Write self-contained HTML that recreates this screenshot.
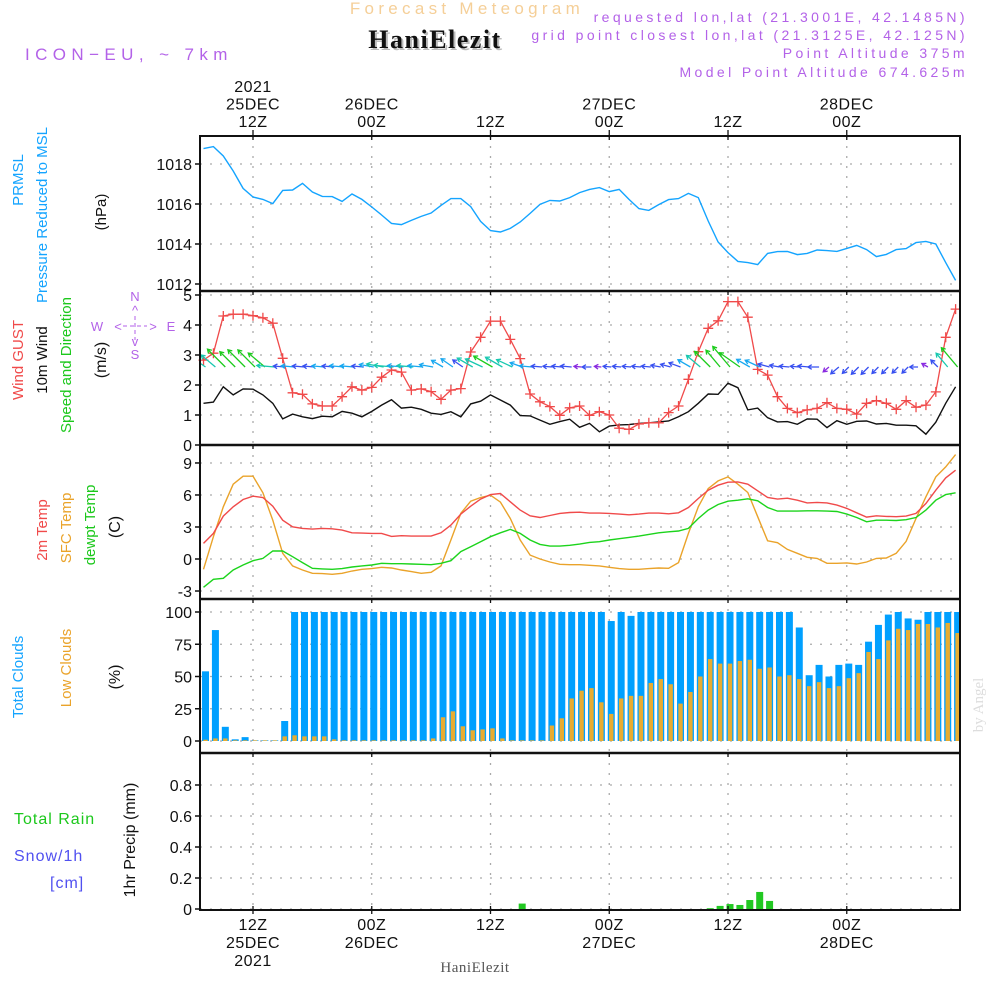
<!DOCTYPE html>
<html><head><meta charset="utf-8"><title>Meteogram</title>
<style>
html,body{margin:0;padding:0;background:#fff;}
svg{display:block;font-family:"Liberation Sans",sans-serif;}
</style></head>
<body>
<svg id="chart" width="1000" height="1000" viewBox="0 0 1000 1000" xmlns="http://www.w3.org/2000/svg">
<rect x="0" y="0" width="1000" height="1000" fill="#fff"/>
<text x="467" y="14" text-anchor="middle" font-size="17" fill="#f5cf98" letter-spacing="4.3">Forecast Meteogram</text>
<text x="437" y="50" text-anchor="middle" font-size="26" font-weight="bold" font-family="Liberation Serif, serif" fill="#bbb" letter-spacing="1.5">HaniElezit</text>
<text x="435" y="48" text-anchor="middle" font-size="26" font-weight="bold" font-family="Liberation Serif, serif" fill="#111" letter-spacing="1.5">HaniElezit</text>
<g font-size="14" fill="#b362e8" text-anchor="end" letter-spacing="3.4">
<text x="968" y="22">requested lon,lat (21.3001E, 42.1485N)</text>
<text x="968" y="40">grid point closest lon,lat (21.3125E, 42.125N)</text>
<text x="968" y="58">Point Altitude 375m</text>
<text x="968" y="77">Model Point Altitude 674.625m</text>
</g>
<text x="25" y="60" font-size="17" fill="#b362e8" letter-spacing="5.4">ICON−EU, ~ 7km</text>
<g id="plot"></g>
<text x="475" y="972" text-anchor="middle" font-size="15" font-family="Liberation Serif, serif" fill="#555" letter-spacing="0.5">HaniElezit</text>
<text transform="translate(983,705) rotate(-90)" text-anchor="middle" font-size="15" font-family="Liberation Serif, serif" fill="#ddd">by Angel</text>
</svg>
<script>
// ---- data (hourly, t = hours from 12Z 25DEC) ----
const tStart = -5;
const pressure = [1018.77,1018.87,1018.4,1017.65,1016.78,1016.35,1016.23,1016.02,1016.68,1016.7,1017.03,1016.6,1016.38,1016.37,1016.13,1016.5,1016.23,1015.85,1015.45,1015.03,1014.97,1015.18,1015.38,1015.55,1015.93,1016.27,1016.27,1015.87,1015.13,1014.67,1014.6,1014.78,1015.1,1015.53,1015.98,1016.18,1016.15,1016.32,1016.57,1016.73,
1016.82,1016.62,1016.73,1016.23,1015.77,1015.68,1015.97,1016.22,1016.27,1016.53,1016.32,1015.15,1014.1,1013.57,1013.13,1013.07,1012.97,1013.53,1013.62,1013.63,1013.47,1013.53,1013.7,1013.67,1013.63,1013.78,1013.93,1013.72,1013.37,1013.48,1013.72,1013.77,1014.07,1014.13,1014.0,1013.07,1012.18];
const gust = [2.83,3.06,4.3,4.36,4.36,4.31,4.24,4.06,2.89,1.74,1.69,1.37,1.3,1.3,1.61,1.94,1.83,1.92,2.26,2.5,2.43,1.83,1.87,1.78,1.52,1.83,1.88,3.1,3.59,4.13,4.13,3.52,2.88,1.7,1.44,1.28,0.99,1.24,1.3,0.99,
1.11,1.0,0.56,0.52,0.7,0.74,0.74,1.08,1.3,2.19,3.11,3.89,4.14,4.78,4.78,4.26,2.52,2.33,1.61,1.22,1.08,1.17,1.22,1.41,1.22,1.19,1.03,1.39,1.48,1.39,1.19,1.48,1.26,1.33,1.77,3.59,4.53];
const wind = [1.39,1.43,1.94,1.67,1.87,1.86,1.67,1.39,0.87,1.03,0.94,0.88,0.96,0.94,1.12,1.06,0.94,1.12,1.33,1.51,1.23,1.26,1.19,1.06,1.02,1.11,0.94,1.37,1.46,1.67,1.5,1.33,0.98,0.97,0.83,0.69,0.78,0.86,0.59,0.72,
0.44,0.63,0.67,0.68,0.72,0.74,0.77,0.8,0.94,1.11,1.39,1.7,1.69,2.06,1.91,1.17,1.23,0.91,0.77,0.78,0.69,0.87,0.86,0.58,0.81,0.69,0.79,0.8,0.7,0.72,0.66,0.66,0.64,0.36,0.76,1.39,1.94];
const windDir = [125,130,135,135,135,135,130,
95,95,95,95,95,95,95,95,95,95,
100,100,
95,95,95,95,100,
120,125,125,120,115,120,120,115,110,
95,95,95,95,95,95,90,95,95,95,95,95,95,
100,105,110,120,
130,135,140,140,125,
120,115,105,100,
95,95,95,90,
50,50,45,45,45,45,45,45,45,90,
120,135,140,140];
const temp2m = [1.46,2.4,4.02,4.89,5.58,5.89,5.76,4.95,3.64,3.02,2.87,2.8,2.87,2.83,2.71,2.46,2.43,2.4,2.4,2.12,2.18,2.15,2.15,2.15,2.46,3.18,4.21,4.95,5.61,6.04,6.14,5.36,4.58,4.05,3.89,4.08,4.27,4.36,4.39,4.3,
4.3,4.27,4.21,4.14,4.21,4.3,4.3,4.24,4.33,4.83,5.67,6.45,6.92,7.2,7.23,7.01,6.39,5.76,5.61,5.7,5.51,5.26,5.3,5.26,5.05,4.74,4.33,3.93,4.05,3.99,3.96,4.02,4.27,5.2,6.45,7.6,8.32];
const tempSfc = [-0.97,2.09,4.89,7.01,7.76,7.76,6.2,3.64,0.53,-0.65,-1.03,-1.34,-1.37,-1.43,-1.34,-1.12,-0.97,-0.9,-0.78,-0.84,-1.03,-1.18,-1.34,-1.25,-0.65,1.78,4.27,5.42,5.76,5.98,5.33,3.8,1.78,0.37,0,-0.28,-0.5,-0.53,-0.53,-0.59,
-0.65,-0.78,-0.9,-0.97,-0.97,-0.9,-0.84,-0.87,-0.34,2.4,4.89,6.6,7.32,7.69,7.01,6.23,3.96,1.71,1.53,0.9,0.53,0.16,0.06,-0.4,-0.4,-0.37,-0.47,-0.28,0.06,0.09,0.53,1.65,3.8,5.83,7.69,8.63,9.78];
const dewpt = [-2.65,-1.9,-1.81,-1.03,-0.56,-0.16,0.06,0.75,0.75,0.22,-0.34,-0.87,-0.93,-0.97,-0.9,-0.75,-0.65,-0.56,-0.4,-0.44,-0.44,-0.47,-0.5,-0.53,-0.4,-0.16,0.69,1.15,1.62,2.09,2.46,2.77,2.4,1.78,1.37,1.21,1.21,1.28,1.4,1.56,
1.62,1.78,1.9,2.02,2.15,2.31,2.46,2.55,2.62,2.87,3.8,4.58,5.11,5.42,5.51,5.64,5.45,4.83,4.49,4.49,4.49,4.52,4.52,4.49,4.45,4.21,3.89,3.49,3.64,3.64,3.61,3.68,3.89,4.58,5.51,6.04,6.2];
const totalClouds = [54,86,11,1.3,3,0.5,0.5,0.5,15.5,
100,100,100,100,100,100,100,100,100,100,100,100,100,100,100,100,100,100,100,100,100,100,100,100,100,100,100,100,100,100,100,
100,93,100,97,100,100,100,100,100,100,100,100,100,100,100,100,100,100,100,100,88,51,59,50,59,60,59,77,90,98,100,95,94,100,100,100,100];
const lowClouds = [1,2,2,0.5,0.5,0.5,0.5,0.5,3.6,4.4,3.6,3.6,3.6,1.3,
0.5,0.5,0.5,0.5,0.5,0.5,0.5,0.5,0.5,
2,18.4,23,11.4,8.3,9,9.8,2,
0.5,0.5,0.5,0.5,
12,17.6,33,39,41,
30,21,33,35,35,45,48,44,29,38,50,63.5,60,60,62,63,56,57,50,51,48,42.5,45.6,41,42.5,48.7,52.6,69,63.5,78,87,86,90.7,90.7,88,91.5,83.7];
const precip = [0,0,0,0,0,0,0,0,0,0,0,0,0,0,0,0,0,0,0,0,0,0,0,0,0,0,0,0,0,0,0,0,
0.035,
0,0,0,0,0,0,0,0,0,0,0,0,0,0,0,0,0,0,
0.005,0.02,0.032,0.026,0.058,0.11,0.052,
0,0,0,0,0,0,0,0,0,0,0,0,0,0,0,0,0,0,0];
const pressureTicks = [1012,1014,1016,1018];
const windTicks = [0,1,2,3,4,5];
const tempTicks = [-3,0,3,6,9];
const cloudTicks = [0,25,50,75,100];
const precipTicks = ["0","0.2","0.4","0.6","0.8"];
const timeTicksHours = [0,12,24,36,48,60];
const topLabels = [["2021","25DEC","12Z"],["26DEC","00Z"],["12Z"],["27DEC","00Z"],["12Z"],["28DEC","00Z"]];
const bottomLabels = [["12Z","25DEC","2021"],["00Z","26DEC"],["12Z"],["00Z","27DEC"],["12Z"],["00Z","28DEC"]];

// ---- scales ----
const X0 = 200, X1 = 960;
function xS(t){ return 253 + 9.896 * t; }
const panels = {p:[136,291], w:[291,445], t:[445,599], c:[599,753], r:[753,910]};
function yP(v){ return 284 - (v - 1012) * 20; }
function yW(v){ return 445 - v * 30; }
function yT(v){ return 559 - v * 10.67; }
function yC(v){ return 741 - v * 1.29; }
function yR(v){ return 909 - v * 155; }

const NS = "http://www.w3.org/2000/svg";
const plot = document.getElementById('plot');
function mk(tag, attrs, parent){
  const e = document.createElementNS(NS, tag);
  for (const k in attrs) e.setAttribute(k, attrs[k]);
  (parent || plot).appendChild(e);
  return e;
}
const clip = mk('clipPath', {id:'clipPlot'});
mk('rect', {x:X0, y:136, width:X1-X0, height:774}, clip);

// grid
const grid = mk('g', {stroke:'#aaa', 'stroke-width':'1.3', 'stroke-dasharray':'2,8', fill:'none'});


for (const key in panels){
  const [a,b] = panels[key];
  timeTicksHours.forEach(h=>{
    const l = mk('line', {x1:xS(h), x2:xS(h), y1:a, y2:b}, grid);
    
    
  });
}
function hGrid(vals, fy){
  vals.forEach(v=>{
    const l = mk('line', {x1:X0, x2:X1, y1:fy(v), y2:fy(v)}, grid);
    
    
  });
}
hGrid(pressureTicks, yP); hGrid(windTicks.slice(1), yW); hGrid(tempTicks, yT); hGrid(cloudTicks, yC); hGrid(precipTicks.map(Number), yR);

// tick labels
const tl = mk('g', {'font-size':'16', fill:'#111', 'text-anchor':'end'});


function yLabels(vals, fy, texts){
  vals.forEach((v,i)=>{
    const y = fy(Number(v));
    const t = mk('text', {x:192, y:y+6}, tl);
    t.textContent = texts ? texts[i] : String(v);
    
    
    const tk = mk('line', {x1:195, x2:200, y1:y, y2:y, stroke:'#111', 'stroke-width':'1.5'});
    
    
  });
}
yLabels(pressureTicks, yP); yLabels(windTicks, yW); yLabels(tempTicks, yT); yLabels(cloudTicks, yC); yLabels(precipTicks, yR, precipTicks);

function pathFrom(arr, fy){
  let d = '';
  arr.forEach((v,i)=>{ d += (i?'L':'M') + xS(tStart+i).toFixed(1) + ',' + fy(v).toFixed(1); });
  return d;
}
const pl = mk('path', {d:pathFrom(pressure, yP), stroke:'#14a4ff', 'stroke-width':'1.4', fill:'none', 'clip-path':'url(#clipPlot)'});



const wl = mk('path', {d:pathFrom(wind, yW), stroke:'#111', 'stroke-width':'1.4', fill:'none'});


const gl = mk('path', {d:pathFrom(gust, yW), stroke:'#f04a4a', 'stroke-width':'1.3', fill:'none'});


const gm = mk('g', {stroke:'#f04a4a', 'stroke-width':'1.3'});


gust.forEach((v,i)=>{
  const x = xS(tStart+i), y = yW(v);
  const p = mk('path', {d:`M${x-5},${y}H${x+5}M${x},${y-5}V${y+5}`}, gm);
  
  
});
function arrowColor(s){
  if (s >= 1.6) return '#1ccc1c';
  if (s >= 1.25) return '#18c8b0';
  if (s >= 0.95) return '#18a8f0';
  if (s >= 0.6) return '#3850f0';
  return '#8a2ae0';
}
const wa = mk('g', {'stroke-width':'1.3', fill:'none', 'clip-path':'url(#clipPlot)'});


windDir.forEach((dir,i)=>{
  const s = wind[i];
  const len = Math.max(7, 13 * s);
  const a = (dir + 180) * Math.PI / 180;
  const dx = Math.sin(a), dy = -Math.cos(a);
  const x0 = xS(tStart+i) + 2, y0 = 367;
  const x1 = x0 + dx*len, y1 = y0 + dy*len;
  const ang = Math.atan2(dy, dx);
  const h = 4.5;
  const hx1 = x1 - h*Math.cos(ang-0.55), hy1 = y1 - h*Math.sin(ang-0.55);
  const hx2 = x1 - h*Math.cos(ang+0.55), hy2 = y1 - h*Math.sin(ang+0.55);
  const p = mk('path', {d:`M${x0},${y0}L${x1},${y1}M${hx1},${hy1}L${x1},${y1}L${hx2},${hy2}`, stroke:arrowColor(s)}, wa);
  
  
});

const tc = mk('g', {fill:'none', 'stroke-width':'1.4', 'clip-path':'url(#clipPlot)'});


const l1 = mk('path', {d:pathFrom(tempSfc, yT), stroke:'#eaa32a'}, tc);


const l2 = mk('path', {d:pathFrom(dewpt, yT), stroke:'#1cd41c'}, tc);


const l3 = mk('path', {d:pathFrom(temp2m, yT), stroke:'#f04a4a'}, tc);



const cg = mk('g', {'clip-path':'url(#clipPlot)'});


totalClouds.forEach((v,i)=>{
  const cx = xS(tStart+i) + 2;
  const b = mk('rect', {x:cx-3.5, y:yC(v), width:7, height:yC(0)-yC(v), fill:'#00a0ff'}, cg);
  
  
  const lv = lowClouds[i];
  const o = mk('rect', {x:cx-2.2, y:yC(lv), width:4.4, height:yC(0)-yC(lv), fill:'#e8ac30'}, cg);
  
  
});

const rg = mk('g', {'clip-path':'url(#clipPlot)'});


precip.forEach((v,i)=>{
  if (v <= 0) return;
  const cx = xS(tStart+i) + 2;
  const b = mk('rect', {x:cx-3.5, y:yR(v), width:7, height:yR(0)-yR(v), fill:'#22c822'}, rg);
  
  
});

const fr = mk('g', {stroke:'#111', 'stroke-width':'2', fill:'none'});


mk('rect', {x:X0, y:136, width:X1-X0, height:774}, fr);
[291,445,599,753].forEach(y=>{
  const l = mk('line', {x1:X0, x2:X1, y1:y, y2:y, 'stroke-width':'2.5'}, fr);
  
  
});
timeTicksHours.forEach(h=>{
  [136,291,445,599,753].forEach(y=>{ mk('line', {x1:xS(h), x2:xS(h), y1:y, y2:y+4, 'stroke-width':'1.3'}, fr); });
  mk('line', {x1:xS(h), x2:xS(h), y1:906, y2:914, 'stroke-width':'1.3'}, fr);
  mk('line', {x1:xS(h), x2:xS(h), y1:130, y2:136, 'stroke-width':'1.3'}, fr);
});

const tg = mk('g', {'font-size':'16', fill:'#111', 'text-anchor':'middle', 'letter-spacing':'0.5'});


topLabels.forEach((lines,i)=>{
  const x = xS(timeTicksHours[i]);
  lines.forEach((s,j)=>{
    const y = 127 - (lines.length-1-j)*17.5;
    const t = mk('text', {x:x, y:y}, tg);
    t.textContent = s;
    
    
  });
});
bottomLabels.forEach((lines,i)=>{
  const x = xS(timeTicksHours[i]);
  lines.forEach((s,j)=>{
    const t = mk('text', {x:x, y:930 + j*18}, tg);
    t.textContent = s;
    
    
  });
});

function vtitle(x, y, parts, name, size){
  const t = mk('text', {transform:`translate(${x},${y}) rotate(-90)`, 'text-anchor':'middle', 'font-size':size||15});
  
  
  parts.forEach(([s,c])=>{ const sp = mk('tspan', {fill:c}, t); sp.textContent = s; });
}
vtitle(23, 180, [['PRMSL','#14a4ff']], 'prmsl-title');
vtitle(47, 215, [['Pressure Reduced to MSL','#14a4ff']], 'pressure-title');
vtitle(106, 212, [['(hPa)','#111']], 'pressure-unit');
vtitle(23, 360, [['Wind GUST','#f04a4a']], 'gust-title');
vtitle(47, 360, [['10m Wind','#111']], 'wind-title');
vtitle(71, 365, [['Speed and Direction','#1cc81c']], 'wind-dir-title');
vtitle(106, 360, [['(m/s)','#111']], 'wind-unit', 16);
vtitle(47, 530, [['2m Temp','#f04a4a']], 'temp2m-title');
vtitle(71, 528, [['SFC Temp','#eaa32a']], 'sfc-temp-title');
vtitle(95, 525, [['dewpt Temp','#1cc81c']], 'dewpt-title');
vtitle(120, 527, [['(C)','#111']], 'temp-unit', 16);
vtitle(23, 677, [['Total Clouds','#14a4ff']], 'total-clouds-title');
vtitle(71, 668, [['Low Clouds','#eaa32a']], 'low-clouds-title');
vtitle(120, 677, [['(%)','#111']], 'cloud-unit', 16);
vtitle(135, 840, [['1hr Precip (mm)','#111']], 'precip-title', 16);

const pl2 = mk('g', {'font-size':'16', 'letter-spacing':'1'});


const a1 = mk('text', {x:14, y:824, fill:'#1cc81c'}, pl2); a1.textContent = 'Total  Rain';


const a2 = mk('text', {x:14, y:861, fill:'#5050f0'}, pl2); a2.textContent = 'Snow/1h';


const a3 = mk('text', {x:50, y:888, fill:'#5050f0'}, pl2); a3.textContent = '[cm]';



const cp = mk('g', {'font-size':'13', fill:'#b362e8', 'text-anchor':'middle'});


[['N',135,301],['S',135,359],['W',97,331],['E',171,331],['^',135,315],['v',135,346],['<',118,331],['>',153,331]].forEach(([s,x,y])=>{
  const t = mk('text', {x:x, y:y}, cp); t.textContent = s;
  
  
});
mk('path', {d:'M123,326H147M135,316V340', stroke:'#b362e8', 'stroke-width':'1', 'stroke-dasharray':'4,3'}, cp);
</script>
</body></html>
